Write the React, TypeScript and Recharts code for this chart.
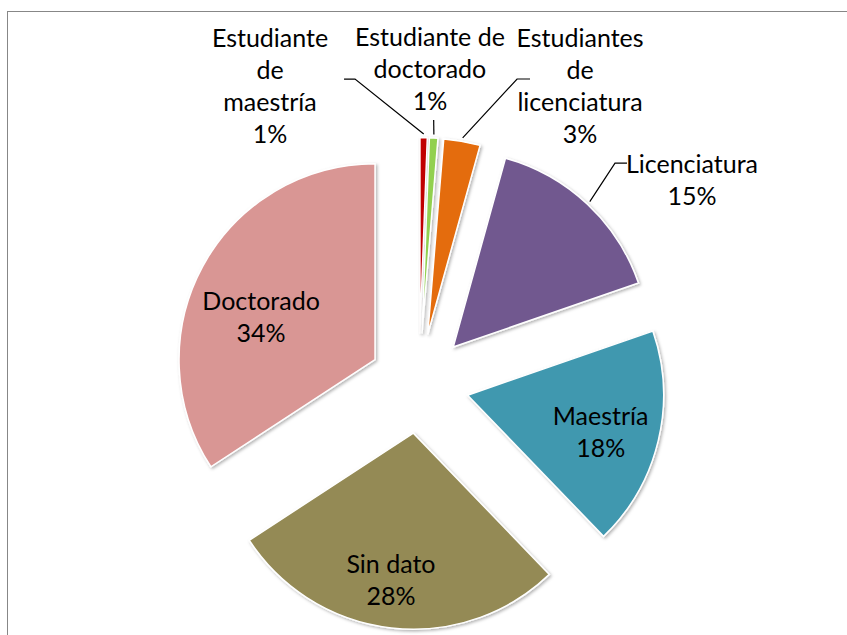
import React from 'react';
import { PieChart, Pie, Cell, Sector } from 'recharts';

// ---- data ----
const categories = [
  'Estudiante de maestría',
  'Estudiante de doctorado',
  'Estudiantes de licenciatura',
  'Licenciatura',
  'Maestría',
  'Sin dato',
  'Doctorado',
];
const labelText = [
  ['Estudiante', 'de', 'maestría'],
  ['Estudiante de', 'doctorado'],
  ['Estudiantes', 'de', 'licenciatura'],
  ['Licenciatura'],
  ['Maestría'],
  ['Sin dato'],
  ['Doctorado'],
];
const shares = [0.6, 0.7, 3.0, 15.4, 18.1, 28.0, 34.2];
const colors = ['#C00000', '#92D050', '#E46C0A', '#71598F', '#4198AF', '#948A54', '#D99694'];

// ---- layout / style ----
const W = 847;
const H = 635;
const EXPLODE = 50;
const FONT = 'Lato, "Noto Sans", sans-serif';
const FS = 25;
const LH = 32;
const RAD = Math.PI / 180;

type LabelCfg =
  | { kind: 'out'; dx: number; dy: number; leader: number[][] }
  | { kind: 'in'; dist: number; dAngle: number };

const labelLayout: LabelCfg[] = [
  { kind: 'out', dx: -153.6, dy: -51.5, leader: [[-68.6, -58.5], [-79.6, -58.5]] },
  { kind: 'out', dx: -3.7, dy: -68.9, leader: [[0, -17.9]] },
  { kind: 'out', dx: 118, dy: -55.3, leader: [[55, -62.3], [68, -62.3]] },
  { kind: 'out', dx: 104.6, dy: -24, leader: [[27.6, -41], [39.6, -41]] },
  { kind: 'in', dist: 138, dAngle: -1.9 },
  { kind: 'in', dist: 148.5, dAngle: -2.2 },
  { kind: 'in', dist: 121.7, dAngle: 7.9 },
];

const data = categories.map((name, i) => ({ name, value: shares[i] }));

const renderSlice = (props: any) => {
  const { cx, cy, midAngle } = props;
  const a = -midAngle * RAD;
  return (
    <Sector
      {...props}
      cx={cx + EXPLODE * Math.cos(a)}
      cy={cy + EXPLODE * Math.sin(a)}
      stroke="#ffffff"
      strokeWidth={1.5}
      filter="url(#sliceShadow)"
    />
  );
};

const renderLabel = (props: any) => {
  const { cx, cy, midAngle, outerRadius, percent, index } = props;
  const cfg = labelLayout[index];
  const lines = [...labelText[index], `${Math.round(percent * 100)}%`];
  let tx = 0;
  let ty = 0;
  let leader: React.ReactNode = null;
  if (cfg.kind === 'in') {
    const a = -midAngle * RAD;
    const ex = cx + EXPLODE * Math.cos(a);
    const ey = cy + EXPLODE * Math.sin(a);
    const b = -(midAngle + cfg.dAngle) * RAD;
    tx = ex + cfg.dist * Math.cos(b);
    ty = ey + cfg.dist * Math.sin(b);
  } else {
    const a = -midAngle * RAD;
    const R = EXPLODE + outerRadius;
    const px = cx + R * Math.cos(a);
    const py = cy + R * Math.sin(a);
    tx = px + cfg.dx;
    ty = py + cfg.dy;
    const sx = cx + (R + 3.5) * Math.cos(a);
    const sy = cy + (R + 3.5) * Math.sin(a);
    const pts = [[sx, sy], ...cfg.leader.map(([dx, dy]) => [px + dx, py + dy])];
    leader = (
      <polyline
        points={pts.map((p) => p.join(',')).join(' ')}
        fill="none"
        stroke="#000"
        strokeWidth={1.2}
      />
    );
  }
  const n = lines.length;
  return (
    <g key={`lbl-${index}`}>
      {leader}
      <text
        textAnchor="middle"
        fontFamily={FONT}
        fontSize={FS}
        fill="#000"
      >
        {lines.map((t, i) => (
          <tspan key={i} x={tx} y={ty + (i - (n - 1) / 2) * LH + 0.35 * FS}>
            {t}
          </tspan>
        ))}
      </text>
    </g>
  );
};

export default function App() {
  return (
    <div
      style={{
        position: 'absolute',
        left: 0,
        top: 0,
        width: W,
        height: H,
        overflow: 'hidden',
        background: '#fff',
      }}
    >
      <div
        style={{
          position: 'absolute',
          left: 7,
          top: 11,
          width: W + 20,
          height: H + 20,
          borderLeft: '1px solid #878787',
          borderTop: '1px solid #878787',
        }}
      />
      <div style={{ position: 'absolute', left: 0, top: 0 }}>
        <PieChart width={W} height={H} margin={{ top: 0, right: 0, bottom: 0, left: 0 }}>
          <defs>
            <filter id="sliceShadow" x="-20%" y="-20%" width="140%" height="140%">
              <feDropShadow dx="1.5" dy="1.5" stdDeviation="1.5" floodColor="#000" floodOpacity="0.3" />
            </filter>
          </defs>
          <Pie
            data={data}
            dataKey="value"
            nameKey="name"
            cx={419}
            cy={383.5}
            outerRadius={196}
            startAngle={90}
            endAngle={-270}
            stroke="#ffffff"
            strokeWidth={1.5}
            isAnimationActive={false}
            shape={renderSlice}
            label={renderLabel}
            labelLine={false}
          >
            {data.map((d, i) => (
              <Cell key={d.name} fill={colors[i]} />
            ))}
          </Pie>
        </PieChart>
      </div>
    </div>
  );
}
